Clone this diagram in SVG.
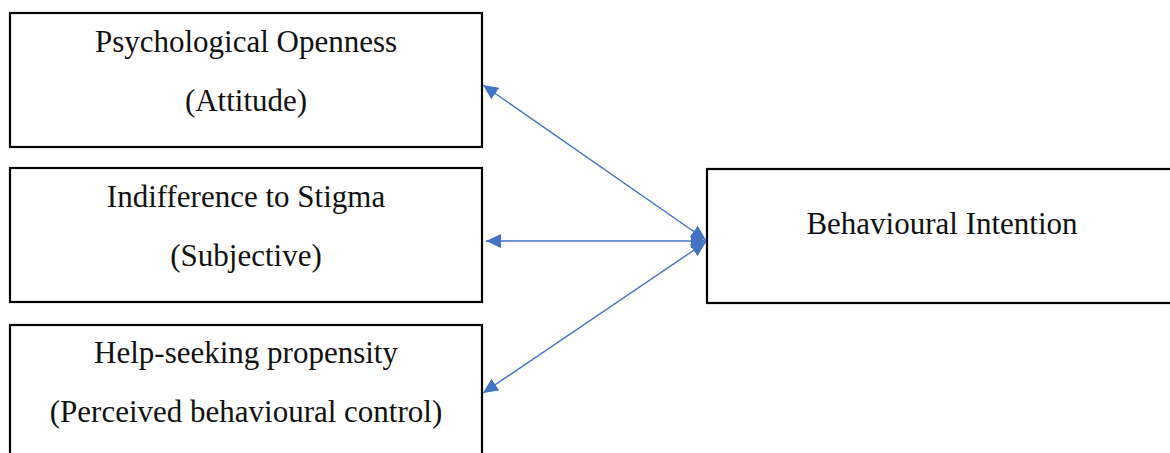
<svg xmlns="http://www.w3.org/2000/svg" width="1170" height="453" viewBox="0 0 1170 453">
  <style>
    .box { fill: #ffffff; stroke: #000000; stroke-width: 2.2; }
    .lbl { font-family: "Liberation Serif", "Times New Roman", serif; font-size: 31px; fill: #111111; text-anchor: middle; }
    .conn { stroke: #4472C4; stroke-width: 1.4; fill: none; marker-start: url(#ah); marker-end: url(#ah); }
  </style>
  <defs>
    <marker id="ah" markerUnits="userSpaceOnUse" markerWidth="15" markerHeight="14" refX="15" refY="7" orient="auto-start-reverse">
      <path d="M0,0 L15,7 L0,14 z" fill="#4472C4"/>
    </marker>
  </defs>
  <rect width="1170" height="453" fill="#ffffff"/>
  <g id="node-psych">
    <rect class="box" x="10" y="13" width="472" height="134"/>
    <text class="lbl" x="246" y="52">Psychological Openness</text>
    <text class="lbl" x="246" y="111">(Attitude)</text>
  </g>
  <g id="node-indiff">
    <rect class="box" x="10" y="168" width="472" height="134"/>
    <text class="lbl" x="246" y="207">Indifference to Stigma</text>
    <text class="lbl" x="246" y="266">(Subjective)</text>
  </g>
  <g id="node-help">
    <rect class="box" x="10" y="325" width="472" height="140"/>
    <text class="lbl" x="246" y="363">Help-seeking propensity</text>
    <text class="lbl" x="246" y="422">(Perceived behavioural control)</text>
  </g>
  <g id="node-intention">
    <rect class="box" x="707" y="169" width="475" height="134"/>
    <text class="lbl" x="942" y="234">Behavioural Intention</text>
  </g>
  <g id="connectors">
    <line class="conn" x1="483" y1="85" x2="706" y2="240"/>
    <line class="conn" x1="486" y1="241" x2="706" y2="241"/>
    <line class="conn" x1="483" y1="393" x2="706" y2="242"/>
  </g>
</svg>
